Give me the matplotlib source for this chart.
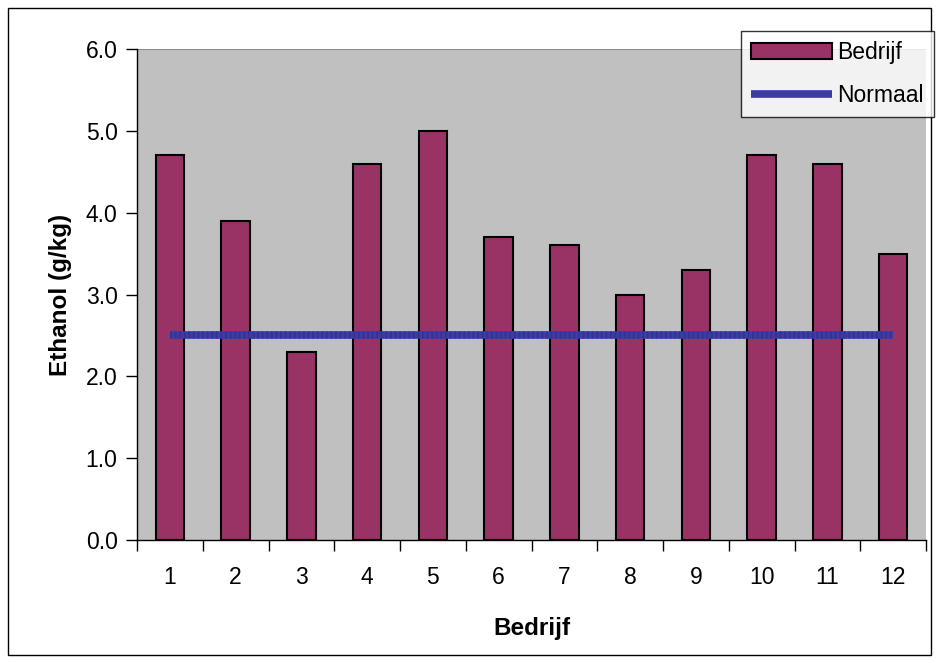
import matplotlib
matplotlib.use("Agg")
import matplotlib.pyplot as plt
import numpy as np
from matplotlib.patches import Rectangle

plt.rcParams['font.family'] = ['Liberation Sans', 'DejaVu Sans']

bedrijven = ['1', '2', '3', '4', '5', '6', '7', '8', '9', '10', '11', '12']
ethanol = [4.7, 3.9, 2.3, 4.6, 5.0, 3.7, 3.6, 3.0, 3.3, 4.7, 4.6, 3.5]
normaal = [2.5] * 12
y_ticks = [0.0, 1.0, 2.0, 3.0, 4.0, 5.0, 6.0]

fig = plt.figure(figsize=(9.39, 6.63), dpi=100)
ax = fig.add_axes([137 / 939, 1 - 540 / 663, 789 / 939, 491 / 663])
ax.set_facecolor('#c0c0c0')

x = np.arange(1, len(bedrijven) + 1)
bars = ax.bar(x, ethanol, width=0.43, color='#993366', edgecolor='black',
              linewidth=1.5, zorder=2, label='Bedrijf')
line, = ax.plot(x, normaal, color='#3c3ca8', linewidth=5.5, zorder=3,
                solid_capstyle='butt', label='Normaal')
# fine striped texture on the line
ax.plot(x, normaal, color='#2e2e8c', linewidth=5.5, zorder=4,
        linestyle=(0, (0.25, 0.35)), dash_capstyle='butt', alpha=0.6)

ax.set_xlim(0.5, 12.5)
ax.set_ylim(0, 6)
ax.set_yticks(y_ticks)
ax.set_yticklabels([f'{v:.1f}' for v in y_ticks])

# category boundaries carry the ticks, labels sit in the middle
ax.set_xticks(np.arange(0.5, 13, 1.0))
ax.set_xticklabels([])
ax.set_xticks(x, minor=True)
ax.set_xticklabels(bedrijven, minor=True)
ax.tick_params(axis='x', which='major', direction='out', length=8, width=1)
ax.tick_params(axis='x', which='minor', length=0, pad=19, labelsize=16.5)
ax.tick_params(axis='y', direction='out', length=8, width=1, labelsize=16.5, pad=6)

for side in ['top', 'right']:
    ax.spines[side].set_visible(False)
for side in ['left', 'bottom']:
    ax.spines[side].set_linewidth(1)
# thin dark edge along the top of the plot area
ax.axhline(6, color='#808080', linewidth=1.2, zorder=1)

ax.set_xlabel('Bedrijf', fontsize=17.5, fontweight='bold', labelpad=20)
ax.set_ylabel('Ethanol (g/kg)', fontsize=17.5, fontweight='bold', labelpad=10)

leg = fig.legend(handles=[bars, line], labels=['Bedrijf', 'Normaal'],
                 loc='upper left', bbox_to_anchor=(741 / 939, 1 - 31 / 663),
                 frameon=True, fancybox=False, fontsize=16.5, borderpad=0.45,
                 handlelength=3.5, handletextpad=0.25, labelspacing=0.85,
                 borderaxespad=0)
leg.get_frame().set_edgecolor('black')
leg.get_frame().set_linewidth(1)

# outer chart border
fig.patches.append(Rectangle((8 / 939, 8 / 663), 923 / 939, 647 / 663,
                             transform=fig.transFigure, fill=False,
                             edgecolor='black', linewidth=1))

fig.savefig('out.png', dpi=100)
